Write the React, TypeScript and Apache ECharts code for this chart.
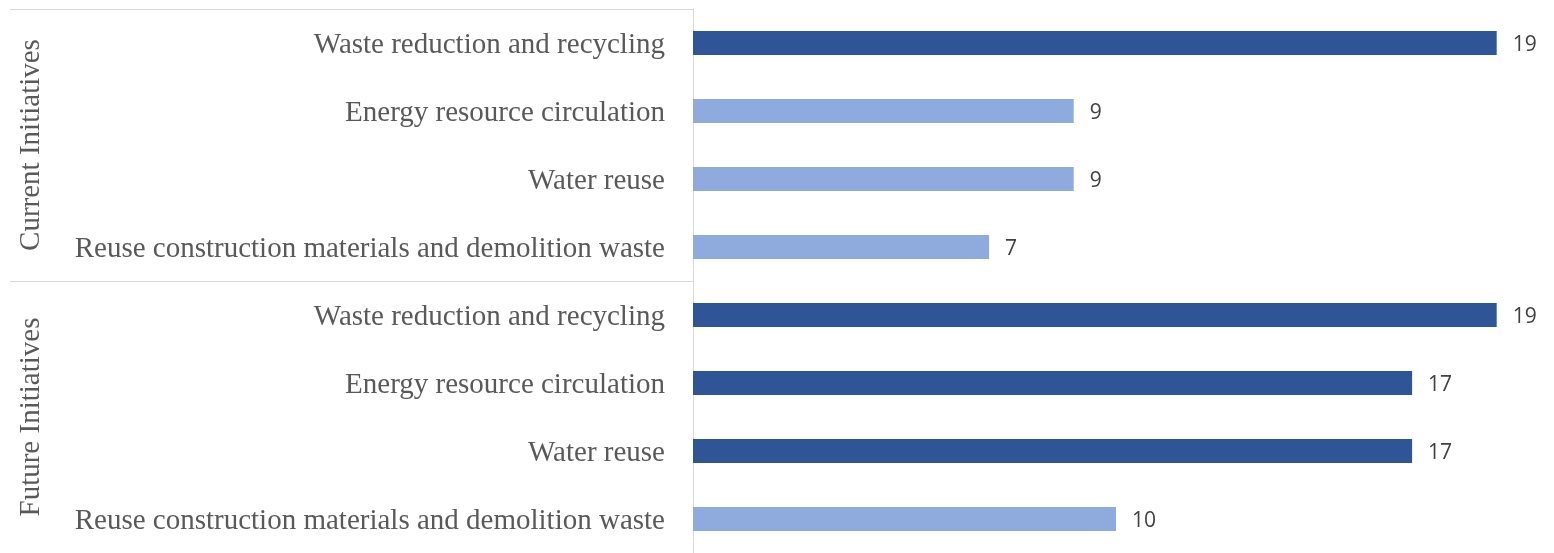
import React, { useEffect, useRef } from "react";
import * as echarts from "echarts";

const groups = ["Current Initiatives", "Future Initiatives"];
const categories = [
  "Waste reduction and recycling",
  "Energy resource circulation",
  "Water reuse",
  "Reuse construction materials and demolition waste",
  "Waste reduction and recycling",
  "Energy resource circulation",
  "Water reuse",
  "Reuse construction materials and demolition waste",
];
const groupOfCategory = [0, 0, 0, 0, 1, 1, 1, 1];
const values = [19, 9, 9, 7, 19, 17, 17, 10];

const DARK = "#2F5597";
const LIGHT = "#8FAADC";
const SERIF = "'Liberation Serif', 'DejaVu Serif', serif";

export default function App() {
  const ref = useRef<HTMLDivElement>(null);
  useEffect(() => {
    if (!ref.current) return;
    const chart = echarts.init(ref.current, null, { renderer: "svg" });
    const catKeys = categories.map((_, i) => String(i));
    chart.setOption({
      animation: false,
      grid: { left: 693, right: 15, top: 9, bottom: -4, containLabel: false },
      xAxis: {
        type: "value",
        min: 0,
        max: 20,
        show: false,
      },
      yAxis: {
        type: "category",
        inverse: true,
        data: catKeys,
        axisLine: { show: true, lineStyle: { color: "#D9D9D9", width: 1 } },
        axisTick: { show: false },
        axisLabel: {
          formatter: (v: string) => categories[Number(v)],
          fontFamily: SERIF,
          fontSize: 29,
          color: "#595959",
          margin: 28,
        },
      },
      series: [
        {
          type: "bar",
          barWidth: 24,
          data: values.map((v) => ({
            value: v,
            itemStyle: { color: v >= 15 ? DARK : LIGHT },
          })),
          label: {
            show: true,
            position: "right",
            distance: 16,
            fontFamily: "'Open Sans', 'Liberation Sans', sans-serif",
            fontSize: 21,
            color: "#404040",
          },
        },
      ],
    });

    // group separators and labels, positioned from the category axis
    const bandY = (i: number) => chart.convertToPixel({ yAxisIndex: 0 }, catKeys[i]) as number;
    const half = (bandY(1) - bandY(0)) / 2;
    const axisX = chart.convertToPixel({ xAxisIndex: 0 }, 0) as number;
    const graphics: any[] = [];
    const bounds: number[] = [];
    groups.forEach((g, gi) => {
      const idx = groupOfCategory.map((v, i) => (v === gi ? i : -1)).filter((i) => i >= 0);
      const y0 = bandY(idx[0]) - half;
      const y1 = bandY(idx[idx.length - 1]) + half;
      bounds.push(y0, y1);
      graphics.push({
        type: "text",
        x: 29,
        y: (y0 + y1) / 2,
        rotation: Math.PI / 2,
        style: {
          text: g,
          fontFamily: SERIF,
          fontSize: 29,
          fill: "#595959",
          align: "center",
          verticalAlign: "middle",
        },
      });
    });
    Array.from(new Set(bounds.map((b) => Math.round(b)))).forEach((y) => {
      graphics.push({
        type: "line",
        shape: { x1: 10, y1: y + 0.5, x2: axisX, y2: y + 0.5 },
        style: { stroke: "#D9D9D9", lineWidth: 1 },
      });
    });
    chart.setOption({ graphic: graphics });

    return () => chart.dispose();
  }, []);
  return (
    <div
      ref={ref}
      style={{ position: "fixed", left: 0, top: 0, width: 1554, height: 553 }}
    />
  );
}
